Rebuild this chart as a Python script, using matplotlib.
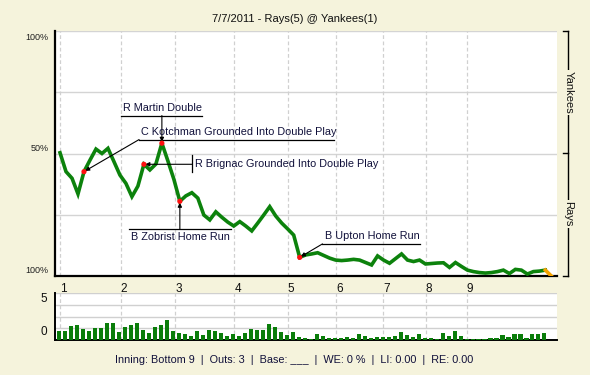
import matplotlib
matplotlib.use("Agg")
import matplotlib.pyplot as plt
from matplotlib.lines import Line2D

plt.rcParams['font.family'] = ['Liberation Sans', 'DejaVu Sans']

title = "7/7/2011 - Rays(5) @ Yankees(1)"
status = "Inning: Bottom 9  |  Outs: 3  |  Base: ___  |  WE: 0 %  |  LI: 0.00  |  RE: 0.00"

# Yankees win expectancy (%) after each play, play 0 = game start
win_exp = [50.3, 42.6, 39.9, 33.5, 42.6, 47.3, 51.8, 50.0, 52.1, 46.7,
           41.2, 37.8, 32.4, 36.7, 45.6, 43.3, 45.7, 54.2, 47.0, 39.5,
           30.5, 32.7, 34.0, 31.8, 24.9, 22.9, 26.2, 24.0, 22.0, 20.4,
           22.2, 20.4, 18.4, 21.6, 24.9, 28.3, 24.5, 21.6, 19.2, 16.7,
           7.6, 8.6, 9.0, 9.5, 8.4, 7.3, 6.5, 6.3, 6.5, 6.8,
           6.5, 5.5, 4.5, 8.2, 6.5, 5.2, 7.1, 9.0, 6.5, 5.9,
           6.5, 4.9, 5.1, 5.3, 5.4, 3.5, 5.5, 3.9, 2.4, 1.8,
           1.4, 1.2, 1.4, 1.8, 2.4, 1.0, 2.7, 2.4, 0.8, 1.8,
           2.0, 2.4, 0.0]

# leverage of each play
leverage = [1.9, 1.9, 3.0, 3.2, 2.3, 1.9, 2.6, 2.6, 3.6, 3.6,
            1.7, 2.8, 3.2, 3.6, 2.1, 1.5, 2.8, 3.2, 4.3, 1.9,
            1.5, 1.3, 0.9, 1.9, 1.1, 2.1, 1.9, 1.5, 0.9, 1.3,
            0.9, 1.5, 2.3, 2.1, 2.1, 3.4, 2.8, 1.7, 1.1, 1.7,
            0.6, 0.4, 0.2, 1.3, 0.9, 0.4, 0.4, 0.4, 0.6, 0.4,
            1.3, 0.9, 0.4, 0.6, 0.6, 0.6, 0.9, 1.7, 1.1, 0.6,
            1.3, 0.4, 0.4, 0.2, 1.5, 0.9, 1.9, 0.9, 0.2, 0.2,
            0.2, 0.2, 0.4, 0.4, 1.1, 0.6, 1.3, 1.3, 0.4, 1.3,
            1.3, 1.5]

inning_labels = ['1', '2', '3', '4', '5', '6', '7', '8', '9']
inning_starts = [0, 10.15, 19.2, 29.1, 38, 46.1, 53.9, 61, 67.9]

# key plays: (label, play index)
events = [("C Kotchman Grounded Into Double Play", 4),
          ("R Brignac Grounded Into Double Play", 14),
          ("R Martin Double", 17),
          ("B Zobrist Home Run", 20),
          ("B Upton Home Run", 40)]

bg = '#f5f3dc'
green = '#0c820c'
txtc = '#10103a'

fig = plt.figure(figsize=(5.9, 3.75), dpi=100, facecolor=bg)
ax = fig.add_axes([0.0932, 0.264, 0.8504, 0.6533])
bx = fig.add_axes([0.0932, 0.0933, 0.8504, 0.1254])

xlim = (-0.84, 82.9)

# main chart
ax.set_facecolor('white')
ax.set_xlim(*xlim)
ax.set_ylim(0, 100)
for y in [25, 50, 75, 100]:
    ax.axhline(y, color='#d4d4d4', lw=1, zorder=1)
for x in inning_starts:
    ax.axvline(x, color='#d0d0d0', lw=0.9, ls=(0, (3, 2)), zorder=1)
n = len(win_exp)
ax.plot(range(n - 1), win_exp[:-1], color=green, lw=2.6, zorder=3,
        solid_joinstyle='miter')
ax.plot([n - 2, n - 1], win_exp[-2:], color='#f5a300', lw=2.6, zorder=3)
ax.scatter([e[1] for e in events], [win_exp[e[1]] for e in events],
           color='#ff1010', s=14, zorder=4, edgecolors='none')

for s in ['top', 'right']:
    ax.spines[s].set_visible(False)
ax.spines['left'].set_linewidth(1.6)
ax.spines['bottom'].set_linewidth(1.6)
ax.set_xticks([])
ax.set_yticks([])
for x, lab in zip(inning_starts, inning_labels):
    ax.text(x, -2.8, lab, ha='left', va='top', fontsize=8.5, color='#101010')
ax.text(-1.9, 97.5, '100%', ha='right', va='center', fontsize=6.5, color='#202020')
ax.text(-1.9, 52, '50%', ha='right', va='center', fontsize=6.5, color='#202020')
ax.text(-1.9, 2.2, '100%', ha='right', va='center', fontsize=6.5, color='#202020')

arrow = dict(arrowstyle='-|>', color='black', lw=0.8, mutation_scale=6,
             shrinkA=0, shrinkB=1)
fs = 7.8

# R Martin Double
i = 17
ax.plot([10.2, 23.7], [65.5, 65.5], color='black', lw=0.9, zorder=2)
ax.text(10.5, 66.5, events[2][0], ha='left', va='bottom', fontsize=fs, color=txtc)
ax.annotate('', xy=(i, win_exp[i]), xytext=(i, 65.5), arrowprops=arrow)

# C Kotchman
i = 4
ax.plot([13.2, 45.7], [55.7, 55.7], color='black', lw=0.9, zorder=2)
ax.text(13.5, 56.7, events[0][0], ha='left', va='bottom', fontsize=fs, color=txtc)
ax.annotate('', xy=(i, win_exp[i]), xytext=(13.2, 55.7), arrowprops=arrow)

# R Brignac
i = 14
ax.plot([22.1, 22.1], [42.4, 49.4], color='black', lw=0.9, zorder=2)
ax.text(22.5, win_exp[i], events[1][0], ha='left', va='center', fontsize=fs, color=txtc)
ax.annotate('', xy=(i, win_exp[i]), xytext=(22.1, win_exp[i]), arrowprops=arrow)

# B Zobrist
i = 20
ax.plot([11.5, 28.6], [19.1, 19.1], color='black', lw=0.9, zorder=2)
ax.text(11.9, 18.0, events[3][0], ha='left', va='top', fontsize=fs, color=txtc)
ax.annotate('', xy=(i, win_exp[i]), xytext=(i, 19.1), arrowprops=arrow)

# B Upton
i = 40
ax.plot([43.8, 60.0], [13.1, 13.1], color='black', lw=0.9, zorder=2)
ax.text(44.3, 14.1, events[4][0], ha='left', va='bottom', fontsize=fs, color=txtc)
ax.annotate('', xy=(i, win_exp[i]), xytext=(43.8, 13.1), arrowprops=arrow)

# leverage bars
bx.set_facecolor('white')
bx.set_xlim(*xlim)
bx.set_ylim(0, 10)
for y in [2.5, 5, 7.5, 10]:
    bx.axhline(y, color='#d0d0d0', lw=1, zorder=1)
for x in inning_starts:
    bx.axvline(x, color='#d0d0d0', lw=0.9, ls=(0, (3, 2)), zorder=1)
bx.bar([k - 0.15 for k in range(len(leverage))], leverage, width=0.68,
       color='#0a7d0a', zorder=3)
for s in ['top', 'right']:
    bx.spines[s].set_visible(False)
bx.spines['left'].set_linewidth(1.4)
bx.spines['bottom'].set_linewidth(1.4)
bx.set_xticks([])
bx.set_yticks([])
bx.text(-2.2, 8.8, '5', ha='right', va='center', fontsize=8.5, color='#101010')
bx.text(-2.2, 1.7, '0', ha='right', va='center', fontsize=8.5, color='#101010')

# title and status line
fig.text(0.5, 0.95, title, ha='center', va='center', fontsize=8, color='#101010')
fig.text(0.499, 0.04, status, ha='center', va='center', fontsize=7.8, color=txtc)

# team bracket on the right
bxr = 568.3 / 590
ytop, ymid, ybot = 1 - 31 / 375, 1 - 153 / 375, 1 - 276 / 375
xl = 562.5 / 590
fig.add_artist(Line2D([bxr, bxr], [ybot, ytop], color='black', lw=1))
for yy in [ytop, ymid, ybot]:
    fig.add_artist(Line2D([xl, bxr], [yy, yy], color='black', lw=1))
fig.text(bxr, 1 - 92.5 / 375, 'Yankees', rotation=270, ha='center', va='center',
         fontsize=8, color='#101010',
         bbox=dict(facecolor=bg, edgecolor='none', pad=1))
fig.text(bxr, 1 - 214 / 375, 'Rays', rotation=270, ha='center', va='center',
         fontsize=8, color='#101010',
         bbox=dict(facecolor=bg, edgecolor='none', pad=1))

fig.savefig('out.png', dpi=100, facecolor=bg)
